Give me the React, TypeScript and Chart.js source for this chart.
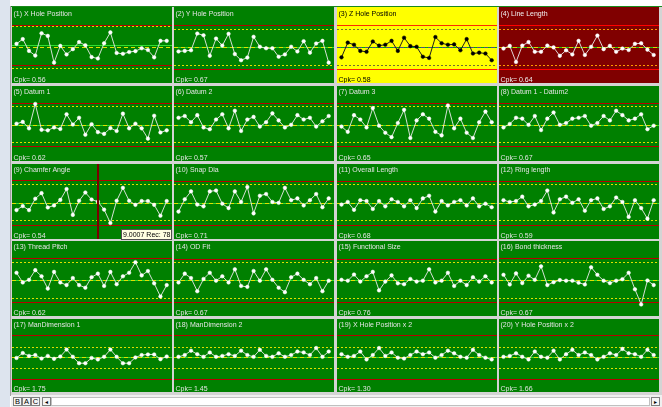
import React, { useEffect, useRef } from "react";
import { Chart, registerables } from "chart.js";
Chart.register(...registerables);

const sampleLabels = ["1","2","3","4","5","6","7","8","9","10","11","12","13","14","15","16","17","18","19","20","21","22","23","24","25"];

const panelTitles = [
  "(1) X Hole Position", "(2) Y Hole Position", "(3) Z Hole Position", "(4) Line Length",
  "(5) Datum 1", "(6) Datum 2", "(7) Datum 3", "(8) Datum 1 - Datum2",
  "(9) Chamfer Angle", "(10) Snap Dia", "(11) Overall Length", "(12) Ring length",
  "(13) Thread Pitch", "(14) OD Fit", "(15) Functional Size", "(16) Bond thickness",
  "(17) ManDimension 1", "(18) ManDimension 2", "(19) X Hole Position x 2", "(20) Y Hole Position x 2",
];

const cpkValues = ["0.56","0.67","0.58","0.64","0.62","0.57","0.65","0.67","0.54","0.71","0.68","0.59","0.62","0.67","0.76","0.67","1.75","1.45","1.30","1.66"];

const s1 = [3.3,8.7,-4.7,-10,15.3,12.3,-18,1,-8.7,-2.7,5.3,1.7,-11.7,-13.3,4,16.3,-7,-8,-6,-5,-1.7,-3.7,-12,6.7,6.7];
const s2 = [-5.3,-4.7,-4,15,13,-10.3,9.3,1.3,14.7,-8.3,-15.3,-12.3,11.3,0,-1.7,-1.7,-11.3,-8.7,0,-5.3,6.3,-6.7,3.7,6.7,-18];
const s3 = [-12,4.7,2.3,-4.7,-5.7,6,1.3,2.3,6.7,-4.7,10.3,0.7,0,-11.3,-12.7,11,4,2.3,2.7,-4,8.7,-7.7,-6.7,-7.7,-15.3];
const s4 = [-2,1,-17.3,1.3,5.3,-5.7,-5.7,1.3,-0.7,-10.3,-4,-8.7,6.7,-9.3,0,12.7,-2.7,1,-5.7,-2,-3.7,3.3,4,-3.3,-9.3];
const s5 = [1.3,3.3,-4,23.7,-5.7,-6.3,-3,-4.7,12,0.3,8,-11.3,0.7,-8.3,-10.3,-3.7,-7,12.7,-4,1.3,-4,-15.7,10.3,-8.7,-6.3];
const s6 = [8,10,3,11,-3,-5,6,12,-4,16,-7,6,9,-2,3,13,5,-3,0,11,6,8,-2,4,10];
const s7 = [-2,-8,11,6,-3,19,-1,-9,-14,2,17,-15,5,12,7,-8,-12,22,-4,7,-9,-15,3,15,3];
const s8 = [-3,1,8,7,0,10,-6,7,14,0,2,7,8,10,-1,2,10,5,16,11,5,7,12,-5,-1];
const s9 = [-8.3,-3.7,-8.3,4.7,11,-5.3,-3,3.3,15.7,-13.7,2.3,11.7,3.7,1.3,-7.7,-23,2.3,17,2.3,-2.3,2,2,-2.3,-14.7,2];
const s10 = [-10,4,13,-2,-4,13,14,-1,-6,13,1,18,-12,8,10,1,0,17,3,5,-3,3,10,-5,5];
const s11 = [-2,1,-8,3,2,-7,2,-4,4,1,-4,3,-6,5,8,-10,2,-3,1,3,-3,5,-4,-1,-5];
const s12 = [3,1,2,7,-4,-2,2,14,-11,4,7,0,4,-9,3,5,-7,-4,6,1,-16,3,-6,-18,3];
const s13 = [9,-2,1,12,5,-9,10,-2,-5,3,-5,-8,4,8,-6,10,-4,5,9,21,6,11,-3,-18,-5];
const s14 = [-2,8,3,-12,2,9,0,5,-2,13,-6,-7,11,0,13,1,-8,-13,4,8,1,-4,3,-12,0];
const s15 = [1,0,7,-1,5,10,-11,-1,6,-3,-4,2,-1,0,13,-2,0,9,-6,0,-5,4,-1,5,-2];
const s16 = [6.7,-4.3,8.3,-2.7,5.7,1,16.3,-5,-1.7,0.7,0,0,-2.3,-4.3,15.3,6.7,0,-2.7,0,1.7,9,-9.7,-27,0.3,-5];
const s17 = [-1.3,4.3,1,2,-2,1,-2.3,0.3,8.3,0,-7.3,-7.3,-1.3,-3,0,8.3,0,-7.3,-7.3,-0.7,2,2.7,2.7,-2.7,0.3];
const s18 = [0,2,7,3,0,5,0,1,3,1,7,2,0,8,1,0,4,0,2,6,5,2,10,0,6];
const s19 = [3,0,1,6,-3,2,10,1,5,-1,-2,2,6,3,5,-1,2,7,4,0,-1,8,2,-1,-3];
const s20 = [0,1,4,0,-3,6,0,-1,7,-3,3,8,2,5,2,-3,0,4,2,9,4,3,0,8,2];
const seriesList = [s1,s2,s3,s4,s5,s6,s7,s8,s9,s10,s11,s12,s13,s14,s15,s16,s17,s18,s19,s20];

const uclValues = [25,25,25,25, 25.3,25,25,25, 25.7,25,25,25, 25.3,25,25,25.3, 25,25,25,25];
const uwlValues = [23,20,20,20.3, 21,21,21,21, 21,21,21,21, 21.3,21.3,21.3,21.3, 11.7,11.7,11.7,11.7];
const targetValues = [2,0,0,-0.7, 0.3,0,0,0, -0.3,0,0,0, 0.3,0.3,0.3,0.3, 0,0,0,0];
const meanValues = [0,0,0,-0.7, 0.3,0,0,0, -0.3,0,0,0, 0.3,0.3,0.3,0.3, 0,0,0,0];
const lwlValues = [-24,-20.3,-20.3,-20.3, -20,-20,-20,-20, -19.7,-19.7,-19.7,-19.7, -19.7,-19.7,-19.7,-19.7, -12.7,-12.7,-12.7,-12.7];
const lclValues = [-21,-25,-25,-25, -24.3,-24.3,-24.3,-24.3, -24.7,-24.7,-24.7,-24.7, -24,-24,-24,-24, -25.3,-25.3,-25.3,-25.3];

const panelThemes = ["green","green","yellow","darkred","green","green","green","green","green","green","green","green","green","green","green","green","green","green","green","green"];

const cursorPanel = 8;
const cursorIndex = 13;
const cursorText = "9.0007 Rec: 78";

const colLeft = [12, 174, 337, 499];
const colWidth = 160;
const rowTop = [7, 86, 164, 241, 319];
const rowHeight = [76, 75, 75, 75, 73];
const rowYMax = [40, 39, 39, 40, 38];

type Theme = { bg: string; text: string; line: string; point: string; limit: string; warn: string; target: string; mean: string };
const themes: Record<string, Theme> = {
  green: { bg: "#008000", text: "#e4e4e4", line: "rgba(235,235,235,0.9)", point: "#ffffff", limit: "#b80000", warn: "#e0e000", target: "#30e030", mean: "#e0e000" },
  yellow: { bg: "#ffff00", text: "#000000", line: "#202020", point: "#000000", limit: "#ff2a00", warn: "#707030", target: "#00b000", mean: "#505080" },
  darkred: { bg: "#800000", text: "#f0f0f0", line: "rgba(235,235,235,0.9)", point: "#ffffff", limit: "#ff0000", warn: "#ff9900", target: "#20c020", mean: "#e0d000" },
};

function Panel({ index }: { index: number }) {
  const ref = useRef<HTMLCanvasElement | null>(null);
  const row = Math.floor(index / 4);
  const col = index % 4;
  const h = rowHeight[row];
  const theme = themes[panelThemes[index]];
  useEffect(() => {
    if (!ref.current) return;
    const limitPlugin = {
      id: "limits" + index,
      beforeDatasetsDraw(chart: any) {
        const ctx = chart.ctx;
        const y = chart.scales.y;
        const w = chart.width;
        const line = (v: number, color: string, dash: number[]) => {
          const py = Math.round(y.getPixelForValue(v)) + 0.5;
          ctx.save();
          ctx.strokeStyle = color;
          ctx.lineWidth = 1;
          ctx.setLineDash(dash);
          ctx.beginPath();
          ctx.moveTo(0, py);
          ctx.lineTo(w, py);
          ctx.stroke();
          ctx.restore();
        };
        line(uclValues[index], theme.limit, []);
        line(lclValues[index], theme.limit, []);
        line(uwlValues[index], theme.warn, [2, 2]);
        line(lwlValues[index], theme.warn, [2, 2]);
        line(targetValues[index], theme.target, []);
        line(meanValues[index], theme.mean, [4, 3]);
      },
      afterDatasetsDraw(chart: any) {
        if (index !== cursorPanel) return;
        const ctx = chart.ctx;
        const x = Math.round(chart.scales.x.getPixelForValue(cursorIndex));
        ctx.save();
        ctx.fillStyle = "#7a0000";
        ctx.fillRect(x - 1, 0, 2, chart.height);
        ctx.restore();
      },
    };
    const chart = new Chart(ref.current, {
      type: "line",
      data: {
        labels: sampleLabels,
        datasets: [
          {
            data: seriesList[index],
            borderColor: theme.line,
            borderWidth: 1,
            pointRadius: 1.8,
            pointBackgroundColor: theme.point,
            pointBorderColor: theme.point,
            pointBorderWidth: 0.5,
            tension: 0,
            clip: false as any,
          },
        ],
      },
      options: {
        animation: false,
        responsive: false,
        maintainAspectRatio: false,
        events: [],
        layout: { padding: { left: 2.3, right: 5.3, top: 0, bottom: 0 } },
        plugins: { legend: { display: false }, tooltip: { enabled: false } },
        scales: {
          x: { display: false, offset: false },
          y: { display: false, min: rowYMax[row] - h, max: rowYMax[row] },
        },
      },
      plugins: [limitPlugin],
    });
    return () => chart.destroy();
  }, [index]);
  const textStyle: React.CSSProperties = {
    position: "absolute",
    left: 1.5,
    fontFamily: "'Liberation Sans', Arial, sans-serif",
    fontSize: 7,
    lineHeight: "8px",
    color: theme.text,
    whiteSpace: "nowrap",
    pointerEvents: "none",
  };
  return (
    <div style={{ position: "absolute", left: colLeft[col], top: rowTop[row], width: colWidth, height: h, background: theme.bg, overflow: "hidden" }}>
      <canvas ref={ref} width={colWidth} height={h} style={{ display: "block", width: colWidth, height: h }} />
      <div style={{ ...textStyle, top: row === 0 ? 3 : 2 }}>{panelTitles[index]}</div>
      <div style={{ ...textStyle, top: h - 7 }}>{"Cpk= " + cpkValues[index]}</div>
    </div>
  );
}

export default function App() {
  const tabStyle: React.CSSProperties = {
    position: "absolute",
    top: 397,
    width: 9,
    height: 9,
    border: "1px solid #808080",
    background: "#f4f4f4",
    fontFamily: "'Liberation Sans', Arial, sans-serif",
    fontSize: 7.5,
    lineHeight: "8px",
    textAlign: "center",
    color: "#000",
    boxSizing: "border-box",
  };
  return (
    <div style={{ position: "absolute", left: 0, top: 0, width: 662, height: 407, background: "#ffffff", overflow: "hidden" }}>
      <div style={{ position: "absolute", left: 0, top: 0, width: 10, height: 407, background: "#dde4ee" }} />
      <div style={{ position: "absolute", left: 10, top: 6, width: 1, height: 390, background: "#a0a0a0" }} />
      <div style={{ position: "absolute", left: 11, top: 6, width: 651, height: 1, background: "#1a8a1a" }} />
      <div style={{ position: "absolute", left: 11, top: 7, width: 651, height: 388, background: "#d4d4d4" }} />
      {panelTitles.map((_, i) => (
        <Panel key={i} index={i} />
      ))}
      <div
        style={{
          position: "absolute",
          left: 121,
          top: 229,
          width: 51,
          height: 11,
          boxSizing: "border-box",
          background: "#ffffe1",
          border: "1px solid #505050",
          fontFamily: "'Liberation Sans', Arial, sans-serif",
          fontSize: 7,
          lineHeight: "9px",
          color: "#000",
          paddingLeft: 1,
          whiteSpace: "nowrap",
          overflow: "hidden",
        }}
      >
        {cursorText}
      </div>
      <div style={{ position: "absolute", left: 11, top: 395, width: 651, height: 12, background: "#f0f0f0" }} />
      <div style={{ ...tabStyle, left: 13 }}>B</div>
      <div style={{ ...tabStyle, left: 22 }}>A</div>
      <div style={{ ...tabStyle, left: 31 }}>C</div>
      <div style={{ ...tabStyle, left: 42, fontSize: 6 }}>◂</div>
      <div style={{ position: "absolute", left: 51, top: 397, width: 599, height: 9, background: "#ffffff", border: "1px solid #c0c0c0", boxSizing: "border-box" }} />
      <div style={{ ...tabStyle, left: 651, fontSize: 6 }}>▸</div>
    </div>
  );
}
